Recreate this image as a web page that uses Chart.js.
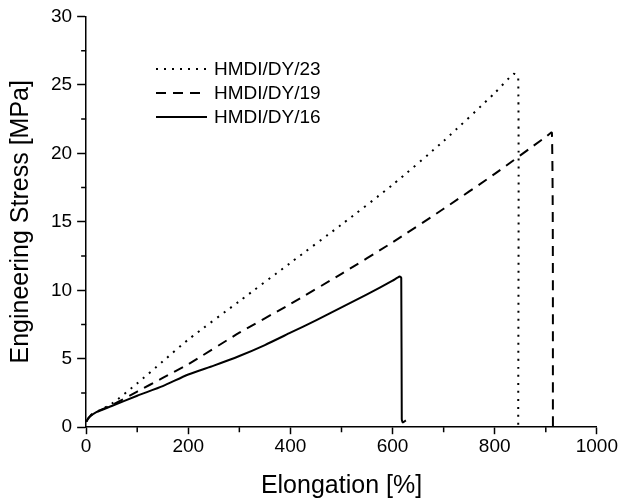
<!DOCTYPE html>
<html>
<head>
<meta charset="utf-8">
<script src="https://cdn.jsdelivr.net/npm/chart.js@4/dist/chart.umd.min.js"></script>
<style>
  body { margin: 0; background: #fff; }
</style>
</head>
<body>
<canvas id="stress" width="619" height="501"></canvas>
<script>
// elongation [%] and engineering stress [MPa]
var dy23X = [0, 10, 25, 50, 100, 150, 200, 300, 400, 500, 600, 700, 800, 837, 846, 846];
var dy23Y = [0.4, 0.9, 1.2, 1.7, 3.2, 4.8, 6.4, 9.2, 12.0, 14.8, 17.7, 20.9, 24.4, 25.8, 25.6, 0];

var dy19X = [0, 10, 25, 50, 100, 150, 200, 300, 400, 500, 600, 700, 800, 900, 912, 914];
var dy19Y = [0.4, 0.9, 1.2, 1.6, 2.6, 3.6, 4.6, 6.9, 9.0, 11.2, 13.5, 15.95, 18.5, 21.2, 21.5, 0];

var dy16X = [0, 5, 20, 50, 100, 150, 200, 250, 300, 350, 400, 450, 500, 550, 600, 614, 617, 618, 620, 626];
var dy16Y = [0.4, 0.7, 1.1, 1.55, 2.3, 3.0, 3.85, 4.5, 5.2, 6.0, 6.9, 7.8, 8.75, 9.7, 10.7, 11.0, 10.9, 0.6, 0.35, 0.5];

var seriesNames = ['HMDI/DY/23', 'HMDI/DY/19', 'HMDI/DY/16'];
var xTicks = [0, 200, 400, 600, 800, 1000];
var yTicks = [0, 5, 10, 15, 20, 25, 30];

var FONT = '"Liberation Sans", Arial, sans-serif';

function pts(xs, ys) {
  return xs.map(function (x, i) { return { x: x, y: ys[i] }; });
}

var dashes = [[2, 6], [10, 7], []];

// legend drawn inside the plot, like the original figure
var insideLegend = {
  id: 'insideLegend',
  afterDraw: function (chart) {
    var ctx = chart.ctx;
    ctx.save();
    ctx.font = '19px ' + FONT;
    ctx.fillStyle = '#000';
    ctx.textBaseline = 'middle';
    seriesNames.forEach(function (name, i) {
      var y = 69 + i * 24;
      ctx.beginPath();
      ctx.setLineDash(dashes[i]);
      ctx.lineWidth = 2;
      ctx.strokeStyle = '#000';
      ctx.moveTo(156, y);
      ctx.lineTo(207, y);
      ctx.stroke();
      ctx.setLineDash([]);
      ctx.fillText(name, 214, y + 1);
    });
    ctx.restore();
  }
};

// short minor ticks (the library draws only one tick length)
var minorTicks = {
  id: 'minorTicks',
  afterDraw: function (chart) {
    var ctx = chart.ctx;
    var xs = chart.scales.x, ys = chart.scales.y;
    ctx.save();
    ctx.strokeStyle = '#000';
    ctx.lineWidth = 1.5;
    ctx.beginPath();
    for (var v = 100; v < 1000; v += 200) {
      var px = xs.getPixelForValue(v);
      ctx.moveTo(px, ys.bottom);
      ctx.lineTo(px, ys.bottom + 5);
    }
    for (var w = 2.5; w < 30; w += 5) {
      var py = ys.getPixelForValue(w);
      ctx.moveTo(xs.left, py);
      ctx.lineTo(xs.left - 5, py);
    }
    ctx.stroke();
    ctx.restore();
  }
};

function majorOnly(list) {
  return function (c) {
    return c.tick && list.indexOf(c.tick.value) >= 0 ? '#000' : 'rgba(0,0,0,0)';
  };
}

var ctxEl = document.getElementById('stress');
var stressChart = new Chart(ctxEl, {
  type: 'scatter',
  data: {
    datasets: [
      { label: seriesNames[0], data: pts(dy23X, dy23Y), borderDash: dashes[0] },
      { label: seriesNames[1], data: pts(dy19X, dy19Y), borderDash: dashes[1] },
      { label: seriesNames[2], data: pts(dy16X, dy16Y), borderDash: dashes[2] }
    ].map(function (d) {
      d.showLine = true;
      d.borderColor = '#000';
      d.borderWidth = 2;
      d.pointRadius = 0;
      d.tension = 0.2;
      d.fill = false;
      return d;
    })
  },
  options: {
    responsive: false,
    animation: false,
    layout: { padding: { left: 6, right: 2, top: 7, bottom: 0 } },
    plugins: {
      legend: { display: false },
      tooltip: { enabled: false }
    },
    scales: {
      x: {
        type: 'linear',
        min: 0,
        max: 1000,
        afterBuildTicks: function (axis) {
          var t = [];
          for (var v = 0; v <= 1000; v += 100) t.push({ value: v });
          axis.ticks = t;
        },
        ticks: {
          color: '#000',
          font: { size: 19, family: FONT },
          maxRotation: 0,
          autoSkip: false,
          padding: 1,
          callback: function (v) { return xTicks.indexOf(v) >= 0 ? v : ''; }
        },
        grid: { drawOnChartArea: false, tickLength: 7, tickColor: majorOnly(xTicks), tickWidth: 1.5 },
        border: { color: '#000', width: 1.5 },
        title: {
          display: true,
          text: 'Elongation [%]',
          color: '#000',
          font: { size: 25, family: FONT },
          padding: { top: 12, bottom: 0 }
        }
      },
      y: {
        min: 0,
        max: 30,
        afterBuildTicks: function (axis) {
          var t = [];
          for (var v = 0; v <= 30; v += 2.5) t.push({ value: v });
          axis.ticks = t;
        },
        ticks: {
          color: '#000',
          font: { size: 19, family: FONT },
          autoSkip: false,
          padding: 5,
          callback: function (v) { return yTicks.indexOf(v) >= 0 ? v : ''; }
        },
        grid: { drawOnChartArea: false, tickLength: 9, tickColor: majorOnly(yTicks), tickWidth: 1.5 },
        border: { color: '#000', width: 1.5 },
        title: {
          display: true,
          text: 'Engineering Stress [MPa]',
          color: '#000',
          font: { size: 25, family: FONT },
          padding: { top: 0, bottom: 10 }
        }
      }
    }
  },
  plugins: [minorTicks, insideLegend]
});
</script>
</body>
</html>
